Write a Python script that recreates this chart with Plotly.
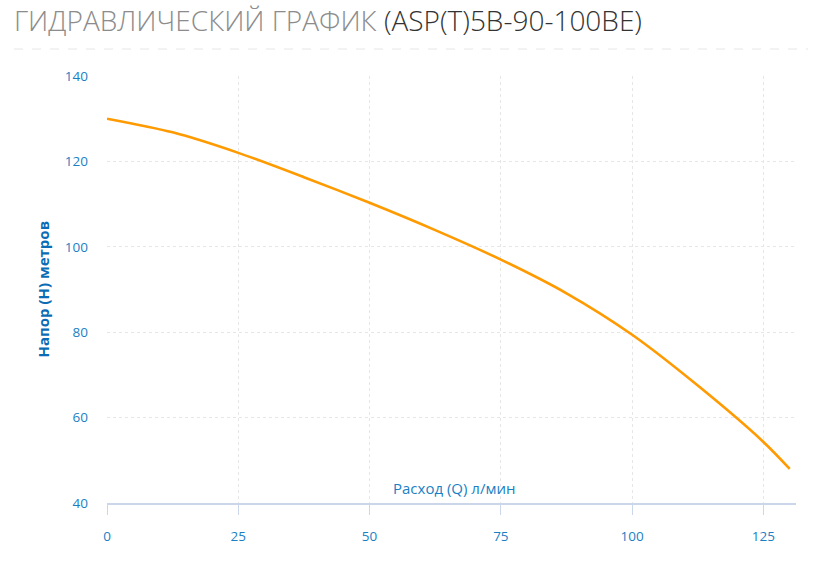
import plotly.graph_objects as go

# flow (Q, l/min) and head (H, m)
flow = [0, 12.5, 25, 37.5, 50, 62.5, 75, 87.5, 100, 112.5, 125, 130]
head = [130, 126.8, 122.0, 116.3, 110.3, 103.9, 97.0, 89.1, 79.4, 67.5, 54.3, 48]

x_ticks = [0, 25, 50, 75, 100, 125]
y_ticks = [40, 60, 80, 100, 120, 140]

title_left = "ГИДРАВЛИЧЕСКИЙ ГРАФИК "
title_model = "(ASP(T)5B-90-100BE)"
x_title = "Расход (Q) л/мин"
y_title = "Напор (H) метров"

blue = "#1b7fc4"
grid = "#e6e6e6"

fig = go.Figure()
fig.add_trace(go.Scatter(
    x=flow, y=head, mode="lines",
    line=dict(color="#ff9a00", width=2.6, shape="spline", smoothing=0.8),
    hoverinfo="x+y", showlegend=False,
))

fig.update_layout(
    width=821, height=573,
    margin=dict(l=107, r=25, t=76, b=70),
    paper_bgcolor="white", plot_bgcolor="white",
    font=dict(family="Open Sans", color=blue, size=13),
    title=dict(
        text=f"<span style='color:#8c8c8c'>{title_left}</span>"
             f"<span style='color:#333333'>{title_model}</span>",
        x=14 / 821, xanchor="left", xref="container",
        y=1 - 21 / 573, yanchor="middle", yref="container",
        font=dict(family="Open Sans", size=28, weight=300),
    ),
    xaxis=dict(
        range=[0, 131.2], tickvals=x_ticks, showgrid=True, gridcolor=grid,
        griddash="dot", gridwidth=1, zeroline=False,
        showline=True, linecolor="#ccd6eb", linewidth=1.5,
        ticks="outside", ticklen=10, tickcolor="#ccd6eb", tickwidth=1,
        ticklabelstandoff=10, tickfont=dict(color=blue, size=13.5),
    ),
    yaxis=dict(
        range=[40, 140], tickvals=y_ticks, showgrid=True, gridcolor=grid,
        griddash="dot", gridwidth=1, zeroline=False, showline=False,
        ticks="", ticklabelstandoff=18, tickfont=dict(color=blue, size=13.5),
    ),
    shapes=[dict(
        type="line", xref="paper", yref="paper",
        x0=(14 - 107) / 689, x1=(808 - 107) / 689,
        y0=(503 - 49) / 427, y1=(503 - 49) / 427,
        line=dict(color="#e6e6e6", width=1, dash="dash"),
    )],
    annotations=[
        dict(text=x_title, xref="paper", yref="paper",
             x=(454 - 107) / 689, y=(503 - 488) / 427,
             xanchor="center", yanchor="middle", showarrow=False,
             font=dict(color=blue, size=15)),
        dict(text=f"<b>{y_title}</b>", xref="paper", yref="paper",
             x=(42 - 107) / 689, y=0.5, textangle=-90,
             xanchor="center", yanchor="middle", showarrow=False,
             font=dict(color="#0b6cb5", size=15)),
    ],
)

# drop the browser's default 8px body margin so the figure sits at 0,0
fig.write_html(
    "out.html",
    config={"displayModeBar": False},
    post_script="document.body.style.margin = '0';",
)
